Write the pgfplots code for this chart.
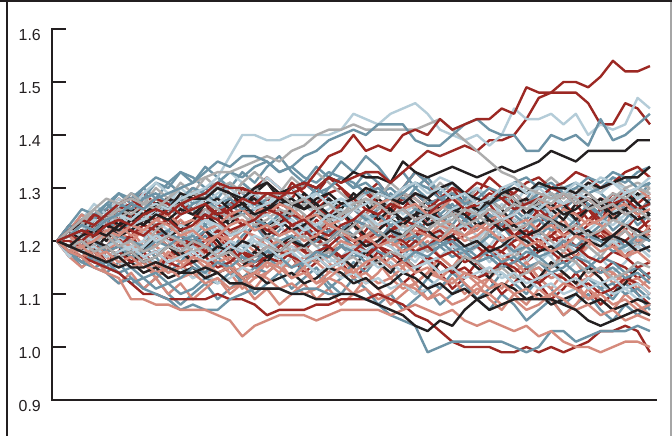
\documentclass[border=0pt]{standalone}
\usepackage{pgfplots}
\pgfplotsset{compat=1.18}
\usepackage{pgfplotstable}
\usepackage{fontspec}
\setmainfont{Liberation Sans}
\definecolor{cR}{RGB}{156,40,35}
\definecolor{cS}{RGB}{213,138,124}
\definecolor{cT}{RGB}{108,147,166}
\definecolor{cL}{RGB}{180,204,216}
\definecolor{cG}{RGB}{172,172,172}
\definecolor{cK}{RGB}{35,31,32}
\definecolor{axk}{RGB}{35,31,32}

% each row is one path, columns are steps 0..48
\pgfplotstableread[header=false]{
1.20 1.21 1.22 1.21 1.23 1.24 1.23 1.25 1.26 1.25 1.27 1.28 1.29 1.31 1.30 1.30 1.29 1.29 1.29 1.29 1.30 1.33 1.36 1.37 1.40 1.37 1.38 1.37 1.40 1.41 1.40 1.43 1.41 1.42 1.43 1.43 1.45 1.44 1.49 1.48 1.48 1.50 1.50 1.49 1.51 1.54 1.52 1.52 1.53
1.20 1.22 1.24 1.23 1.25 1.27 1.28 1.26 1.28 1.27 1.25 1.26 1.27 1.25 1.26 1.28 1.27 1.29 1.28 1.30 1.31 1.30 1.32 1.31 1.32 1.33 1.33 1.31 1.33 1.35 1.37 1.36 1.37 1.38 1.37 1.39 1.39 1.40 1.43 1.47 1.48 1.48 1.48 1.46 1.42 1.42 1.46 1.45 1.42
1.20 1.18 1.17 1.16 1.15 1.14 1.12 1.10 1.10 1.09 1.09 1.09 1.09 1.10 1.09 1.09 1.08 1.06 1.07 1.07 1.07 1.08 1.08 1.09 1.09 1.09 1.10 1.09 1.08 1.06 1.05 1.03 1.01 1.00 1.00 1.00 0.99 0.99 1.00 0.99 1.00 0.99 1.00 1.01 1.03 1.03 1.04 1.03 0.99
1.20 1.21 1.20 1.22 1.21 1.23 1.22 1.21 1.23 1.24 1.22 1.23 1.25 1.24 1.22 1.23 1.24 1.26 1.25 1.23 1.24 1.22 1.21 1.23 1.24 1.26 1.25 1.27 1.26 1.24 1.25 1.27 1.28 1.26 1.27 1.29 1.28 1.26 1.27 1.28 1.30 1.29 1.27 1.28 1.26 1.27 1.28 1.26 1.27
1.20 1.19 1.18 1.19 1.17 1.18 1.16 1.17 1.18 1.16 1.15 1.16 1.17 1.15 1.16 1.18 1.17 1.19 1.18 1.17 1.16 1.18 1.19 1.17 1.18 1.20 1.19 1.21 1.20 1.18 1.19 1.17 1.18 1.16 1.17 1.19 1.18 1.20 1.21 1.19 1.18 1.20 1.19 1.17 1.16 1.18 1.17 1.15 1.16
1.20 1.22 1.21 1.23 1.25 1.24 1.26 1.25 1.24 1.26 1.27 1.25 1.24 1.26 1.25 1.23 1.24 1.22 1.23 1.25 1.24 1.26 1.25 1.27 1.28 1.26 1.25 1.27 1.29 1.28 1.26 1.28 1.30 1.29 1.31 1.30 1.28 1.29 1.31 1.32 1.30 1.31 1.33 1.32 1.30 1.31 1.33 1.34 1.32
1.20 1.19 1.21 1.20 1.18 1.19 1.21 1.22 1.20 1.21 1.19 1.20 1.18 1.17 1.19 1.18 1.16 1.17 1.19 1.20 1.18 1.17 1.15 1.16 1.18 1.17 1.19 1.18 1.16 1.15 1.17 1.16 1.14 1.15 1.13 1.14 1.16 1.15 1.13 1.12 1.14 1.13 1.11 1.12 1.10 1.11 1.13 1.12 1.10
1.20 1.21 1.23 1.25 1.24 1.26 1.27 1.25 1.26 1.28 1.27 1.26 1.28 1.27 1.25 1.26 1.24 1.25 1.27 1.26 1.24 1.25 1.23 1.22 1.24 1.23 1.21 1.22 1.24 1.23 1.21 1.22 1.20 1.21 1.23 1.22 1.24 1.23 1.21 1.22 1.20 1.21 1.19 1.20 1.22 1.21 1.23 1.22 1.24
1.20 1.20 1.19 1.21 1.22 1.20 1.21 1.23 1.22 1.20 1.21 1.19 1.20 1.22 1.21 1.23 1.24 1.22 1.21 1.23 1.22 1.20 1.19 1.21 1.20 1.18 1.19 1.17 1.18 1.20 1.19 1.21 1.20 1.18 1.19 1.17 1.18 1.16 1.17 1.19 1.18 1.16 1.17 1.15 1.14 1.16 1.15 1.13 1.14
1.20 1.22 1.23 1.22 1.24 1.23 1.25 1.26 1.24 1.25 1.23 1.24 1.26 1.25 1.27 1.28 1.26 1.27 1.25 1.26 1.28 1.27 1.29 1.30 1.28 1.29 1.27 1.26 1.28 1.29 1.27 1.28 1.26 1.25 1.27 1.28 1.30 1.29 1.27 1.28 1.26 1.27 1.25 1.26 1.28 1.27 1.25 1.26 1.24
1.20 1.19 1.18 1.20 1.19 1.21 1.20 1.18 1.19 1.17 1.18 1.20 1.19 1.17 1.18 1.16 1.15 1.17 1.16 1.18 1.19 1.21 1.20 1.22 1.21 1.19 1.20 1.22 1.23 1.21 1.22 1.20 1.21 1.23 1.22 1.24 1.23 1.21 1.22 1.20 1.21 1.23 1.22 1.20 1.21 1.19 1.20 1.22 1.21
1.20 1.23 1.21 1.25 1.23 1.26 1.24 1.28 1.26 1.23 1.25 1.29 1.27 1.24 1.26 1.30 1.28 1.25 1.27 1.31 1.29 1.26 1.28 1.25 1.27 1.30 1.27 1.24 1.26 1.29 1.27 1.24 1.26 1.22 1.25 1.27 1.24 1.21 1.23 1.26 1.24 1.21 1.23 1.26 1.23 1.20 1.22 1.25 1.22
1.20 1.18 1.21 1.19 1.16 1.18 1.21 1.18 1.15 1.17 1.20 1.17 1.19 1.22 1.19 1.16 1.18 1.21 1.23 1.20 1.18 1.21 1.24 1.21 1.19 1.22 1.25 1.22 1.20 1.23 1.26 1.23 1.21 1.24 1.27 1.24 1.22 1.25 1.28 1.25 1.23 1.26 1.29 1.26 1.24 1.27 1.30 1.27 1.29
1.20 1.22 1.19 1.21 1.24 1.21 1.18 1.20 1.23 1.20 1.17 1.19 1.22 1.19 1.16 1.18 1.15 1.17 1.20 1.17 1.14 1.16 1.19 1.16 1.13 1.15 1.18 1.15 1.12 1.14 1.17 1.14 1.11 1.13 1.16 1.13 1.10 1.12 1.15 1.12 1.09 1.11 1.14 1.11 1.08 1.10 1.13 1.10 1.08
1.20 1.21 1.24 1.22 1.25 1.28 1.26 1.23 1.25 1.28 1.26 1.29 1.27 1.24 1.26 1.23 1.25 1.28 1.26 1.23 1.21 1.24 1.22 1.25 1.23 1.20 1.22 1.25 1.28 1.26 1.23 1.25 1.22 1.24 1.27 1.25 1.22 1.24 1.21 1.23 1.26 1.24 1.21 1.23 1.26 1.24 1.27 1.25 1.22
1.20 1.17 1.19 1.16 1.18 1.21 1.19 1.16 1.14 1.17 1.19 1.16 1.18 1.21 1.18 1.20 1.23 1.21 1.18 1.20 1.23 1.21 1.18 1.16 1.19 1.17 1.20 1.22 1.19 1.21 1.24 1.22 1.19 1.17 1.20 1.18 1.21 1.19 1.16 1.18 1.21 1.19 1.17 1.20 1.22 1.19 1.17 1.20 1.18
1.20 1.22 1.21 1.24 1.26 1.24 1.27 1.29 1.27 1.25 1.28 1.30 1.28 1.31 1.29 1.27 1.30 1.32 1.30 1.28 1.31 1.29 1.32 1.30 1.27 1.29 1.31 1.28 1.30 1.33 1.31 1.28 1.30 1.27 1.29 1.32 1.30 1.27 1.25 1.28 1.26 1.29 1.27 1.24 1.26 1.29 1.27 1.25 1.28
}\redraw
\pgfplotstableread[header=false]{
1.20 1.18 1.17 1.15 1.14 1.13 1.09 1.09 1.08 1.08 1.07 1.07 1.07 1.06 1.05 1.02 1.04 1.05 1.06 1.06 1.06 1.05 1.06 1.07 1.07 1.07 1.07 1.06 1.07 1.08 1.07 1.06 1.07 1.05 1.04 1.05 1.04 1.03 1.04 1.02 1.03 1.01 1.00 1.00 0.99 1.00 1.01 1.01 1.00
1.20 1.18 1.19 1.17 1.18 1.16 1.17 1.15 1.16 1.14 1.15 1.17 1.16 1.14 1.15 1.13 1.14 1.16 1.15 1.13 1.14 1.12 1.13 1.15 1.14 1.16 1.17 1.15 1.16 1.14 1.15 1.13 1.12 1.14 1.13 1.11 1.12 1.10 1.11 1.09 1.10 1.12 1.11 1.09 1.10 1.08 1.09 1.07 1.08
1.20 1.21 1.19 1.20 1.22 1.21 1.23 1.22 1.24 1.23 1.21 1.22 1.20 1.21 1.23 1.24 1.22 1.23 1.21 1.22 1.20 1.21 1.23 1.22 1.20 1.21 1.19 1.20 1.18 1.19 1.21 1.20 1.22 1.21 1.23 1.22 1.20 1.21 1.19 1.20 1.18 1.19 1.21 1.20 1.18 1.19 1.17 1.18 1.16
1.20 1.22 1.21 1.20 1.22 1.23 1.21 1.22 1.24 1.25 1.23 1.24 1.22 1.23 1.25 1.26 1.24 1.25 1.27 1.26 1.24 1.25 1.23 1.24 1.26 1.25 1.27 1.28 1.26 1.27 1.25 1.26 1.28 1.27 1.25 1.26 1.24 1.25 1.27 1.28 1.26 1.27 1.29 1.28 1.26 1.27 1.29 1.30 1.28
1.20 1.19 1.17 1.18 1.16 1.17 1.15 1.16 1.14 1.15 1.13 1.14 1.12 1.13 1.11 1.12 1.14 1.13 1.11 1.12 1.10 1.11 1.13 1.12 1.10 1.11 1.09 1.10 1.12 1.11 1.09 1.10 1.08 1.09 1.11 1.10 1.08 1.09 1.07 1.08 1.10 1.09 1.07 1.08 1.06 1.07 1.05 1.06 1.05
1.20 1.21 1.22 1.20 1.21 1.19 1.20 1.22 1.21 1.19 1.20 1.18 1.19 1.21 1.20 1.22 1.21 1.19 1.20 1.18 1.19 1.17 1.18 1.20 1.19 1.21 1.22 1.20 1.21 1.23 1.22 1.24 1.23 1.21 1.22 1.24 1.25 1.23 1.24 1.22 1.23 1.21 1.22 1.24 1.23 1.21 1.22 1.20 1.21
1.20 1.18 1.17 1.19 1.18 1.20 1.19 1.17 1.18 1.16 1.17 1.19 1.18 1.16 1.17 1.15 1.16 1.18 1.17 1.19 1.18 1.16 1.17 1.19 1.18 1.20 1.21 1.19 1.20 1.22 1.21 1.23 1.22 1.20 1.21 1.23 1.24 1.22 1.23 1.25 1.24 1.26 1.25 1.23 1.24 1.26 1.27 1.25 1.26
1.20 1.21 1.20 1.18 1.19 1.17 1.18 1.20 1.19 1.17 1.16 1.17 1.15 1.16 1.14 1.15 1.13 1.14 1.16 1.15 1.17 1.16 1.14 1.15 1.13 1.14 1.12 1.13 1.11 1.12 1.14 1.13 1.15 1.14 1.12 1.13 1.15 1.16 1.14 1.15 1.13 1.14 1.12 1.13 1.15 1.14 1.12 1.13 1.11
1.20 1.22 1.20 1.17 1.19 1.22 1.20 1.17 1.15 1.18 1.16 1.13 1.15 1.18 1.16 1.13 1.11 1.14 1.16 1.13 1.15 1.18 1.16 1.13 1.15 1.12 1.14 1.17 1.15 1.12 1.14 1.17 1.15 1.12 1.10 1.13 1.11 1.14 1.16 1.13 1.11 1.14 1.12 1.09 1.11 1.14 1.12 1.15 1.13
1.20 1.21 1.18 1.20 1.23 1.21 1.24 1.22 1.19 1.21 1.24 1.22 1.25 1.23 1.20 1.22 1.25 1.27 1.24 1.22 1.25 1.23 1.20 1.22 1.24 1.21 1.23 1.26 1.24 1.21 1.19 1.22 1.20 1.17 1.19 1.22 1.20 1.18 1.21 1.19 1.22 1.24 1.21 1.19 1.22 1.20 1.17 1.19 1.22
1.20 1.18 1.16 1.19 1.17 1.15 1.18 1.16 1.13 1.15 1.18 1.15 1.13 1.16 1.14 1.11 1.13 1.16 1.14 1.17 1.15 1.12 1.14 1.17 1.15 1.18 1.16 1.13 1.15 1.18 1.20 1.17 1.15 1.18 1.21 1.19 1.16 1.18 1.21 1.19 1.22 1.20 1.17 1.19 1.22 1.25 1.22 1.20 1.23
1.20 1.22 1.25 1.23 1.21 1.24 1.22 1.19 1.21 1.24 1.22 1.20 1.17 1.19 1.22 1.20 1.18 1.15 1.17 1.20 1.18 1.16 1.19 1.17 1.14 1.16 1.19 1.17 1.15 1.18 1.16 1.13 1.15 1.18 1.16 1.19 1.17 1.14 1.16 1.13 1.15 1.18 1.16 1.13 1.15 1.12 1.14 1.11 1.13
1.20 1.17 1.15 1.17 1.14 1.12 1.14 1.11 1.13 1.10 1.12 1.09 1.11 1.13 1.10 1.12 1.09 1.11 1.08 1.10 1.12 1.09 1.11 1.08 1.10 1.13 1.11 1.08 1.10 1.12 1.09 1.11 1.13 1.10 1.12 1.09 1.07 1.10 1.08 1.11 1.09 1.06 1.08 1.11 1.09 1.07 1.10 1.08 1.06
}\salraw
\pgfplotstableread[header=false]{
1.20 1.21 1.23 1.22 1.24 1.25 1.27 1.26 1.28 1.29 1.30 1.31 1.33 1.35 1.34 1.36 1.36 1.35 1.33 1.34 1.36 1.37 1.39 1.40 1.41 1.40 1.42 1.42 1.42 1.39 1.38 1.38 1.40 1.42 1.43 1.41 1.40 1.40 1.37 1.37 1.40 1.39 1.40 1.38 1.43 1.39 1.40 1.42 1.44
1.20 1.18 1.16 1.15 1.14 1.12 1.13 1.11 1.10 1.09 1.07 1.08 1.07 1.07 1.09 1.10 1.11 1.11 1.11 1.10 1.11 1.11 1.10 1.10 1.10 1.09 1.08 1.06 1.05 1.04 0.99 1.00 1.01 1.01 1.01 1.01 1.01 1.00 0.99 1.00 1.03 1.03 1.01 1.02 1.03 1.03 1.03 1.04 1.03
1.20 1.22 1.24 1.23 1.25 1.27 1.26 1.28 1.29 1.27 1.28 1.30 1.29 1.27 1.28 1.26 1.27 1.29 1.28 1.30 1.31 1.29 1.30 1.32 1.31 1.29 1.30 1.28 1.29 1.31 1.30 1.28 1.29 1.27 1.28 1.30 1.29 1.31 1.32 1.30 1.31 1.29 1.30 1.32 1.31 1.33 1.32 1.30 1.31
1.20 1.18 1.17 1.15 1.16 1.14 1.15 1.13 1.14 1.12 1.13 1.15 1.14 1.16 1.15 1.17 1.16 1.18 1.17 1.15 1.16 1.18 1.17 1.19 1.18 1.16 1.17 1.15 1.16 1.18 1.17 1.19 1.20 1.18 1.19 1.21 1.20 1.18 1.19 1.17 1.18 1.20 1.19 1.21 1.20 1.18 1.19 1.21 1.20
1.20 1.21 1.19 1.20 1.18 1.19 1.17 1.18 1.20 1.19 1.21 1.20 1.22 1.23 1.21 1.22 1.24 1.23 1.25 1.24 1.22 1.23 1.21 1.22 1.24 1.23 1.21 1.22 1.20 1.21 1.19 1.20 1.18 1.19 1.17 1.18 1.16 1.17 1.15 1.16 1.14 1.15 1.17 1.16 1.14 1.15 1.13 1.14 1.12
1.20 1.22 1.21 1.23 1.24 1.22 1.23 1.25 1.24 1.26 1.25 1.27 1.28 1.26 1.27 1.25 1.26 1.28 1.29 1.27 1.28 1.26 1.25 1.27 1.26 1.24 1.25 1.23 1.24 1.26 1.25 1.27 1.26 1.24 1.25 1.27 1.28 1.26 1.27 1.29 1.28 1.30 1.31 1.29 1.30 1.32 1.31 1.33 1.34
1.20 1.19 1.20 1.18 1.19 1.21 1.20 1.19 1.21 1.22 1.20 1.21 1.19 1.18 1.20 1.19 1.17 1.18 1.20 1.21 1.19 1.20 1.22 1.21 1.19 1.20 1.18 1.17 1.19 1.18 1.16 1.17 1.19 1.18 1.16 1.17 1.15 1.16 1.18 1.17 1.15 1.16 1.14 1.15 1.17 1.16 1.14 1.15 1.13
1.20 1.23 1.26 1.25 1.27 1.29 1.28 1.30 1.32 1.31 1.33 1.32 1.30 1.31 1.33 1.32 1.34 1.35 1.33 1.34 1.32 1.31 1.33 1.32 1.30 1.31 1.29 1.30 1.28 1.29 1.27 1.28 1.26 1.27 1.25 1.26 1.24 1.25 1.23 1.24 1.22 1.23 1.21 1.22 1.20 1.21 1.19 1.20 1.18
1.20 1.18 1.16 1.17 1.15 1.14 1.12 1.13 1.11 1.12 1.10 1.11 1.13 1.12 1.14 1.13 1.15 1.14 1.16 1.15 1.17 1.16 1.18 1.19 1.17 1.18 1.20 1.19 1.21 1.20 1.18 1.19 1.17 1.18 1.16 1.17 1.15 1.16 1.14 1.15 1.13 1.14 1.12 1.13 1.11 1.12 1.10 1.11 1.09
1.20 1.23 1.21 1.24 1.27 1.25 1.22 1.24 1.27 1.25 1.28 1.26 1.23 1.25 1.28 1.31 1.29 1.26 1.28 1.25 1.27 1.30 1.28 1.25 1.27 1.24 1.26 1.29 1.27 1.30 1.28 1.25 1.27 1.24 1.22 1.25 1.23 1.26 1.24 1.21 1.23 1.26 1.24 1.27 1.25 1.22 1.24 1.27 1.25
1.20 1.18 1.20 1.17 1.15 1.18 1.16 1.19 1.17 1.14 1.16 1.19 1.21 1.18 1.20 1.17 1.15 1.17 1.20 1.18 1.15 1.17 1.20 1.23 1.21 1.18 1.20 1.23 1.21 1.24 1.22 1.19 1.21 1.24 1.22 1.25 1.23 1.20 1.22 1.25 1.23 1.26 1.24 1.21 1.23 1.26 1.28 1.25 1.27
1.20 1.21 1.18 1.16 1.19 1.21 1.18 1.16 1.13 1.15 1.18 1.16 1.14 1.17 1.15 1.12 1.14 1.17 1.15 1.13 1.16 1.14 1.11 1.13 1.16 1.14 1.17 1.15 1.12 1.10 1.13 1.11 1.14 1.12 1.09 1.11 1.14 1.12 1.10 1.13 1.11 1.08 1.10 1.13 1.11 1.09 1.12 1.10 1.07
1.20 1.22 1.24 1.21 1.23 1.26 1.24 1.21 1.19 1.22 1.24 1.21 1.23 1.20 1.18 1.21 1.23 1.20 1.22 1.25 1.23 1.20 1.22 1.19 1.21 1.24 1.22 1.19 1.17 1.20 1.22 1.25 1.23 1.26 1.24 1.21 1.23 1.26 1.24 1.27 1.25 1.22 1.24 1.27 1.25 1.28 1.26 1.23 1.25
1.20 1.22 1.25 1.24 1.27 1.26 1.29 1.28 1.31 1.30 1.33 1.31 1.34 1.32 1.30 1.33 1.31 1.34 1.36 1.33 1.31 1.34 1.32 1.35 1.33 1.36 1.34 1.31 1.33 1.30 1.32 1.29 1.31 1.28 1.30 1.27 1.29 1.26 1.28 1.31 1.29 1.26 1.28 1.31 1.29 1.27 1.30 1.28 1.31
1.20 1.23 1.21 1.24 1.26 1.29 1.27 1.30 1.28 1.31 1.29 1.27 1.30 1.28 1.31 1.29 1.27 1.25 1.28 1.26 1.29 1.27 1.30 1.32 1.30 1.33 1.31 1.28 1.30 1.33 1.31 1.29 1.26 1.28 1.25 1.27 1.30 1.28 1.25 1.27 1.24 1.26 1.29 1.27 1.24 1.26 1.23 1.25 1.28
1.20 1.18 1.15 1.17 1.14 1.16 1.13 1.11 1.13 1.10 1.08 1.10 1.12 1.09 1.11 1.13 1.10 1.12 1.14 1.11 1.13 1.15 1.12 1.10 1.13 1.11 1.08 1.10 1.07 1.09 1.11 1.08 1.10 1.12 1.09 1.07 1.10 1.08 1.05 1.07 1.09 1.06 1.08 1.10 1.07 1.05 1.08 1.06 1.08
}\tealraw
\pgfplotstableread[header=false]{
1.20 1.21 1.23 1.22 1.24 1.25 1.24 1.26 1.27 1.26 1.28 1.29 1.30 1.32 1.36 1.40 1.40 1.39 1.39 1.40 1.40 1.40 1.40 1.41 1.44 1.43 1.42 1.44 1.45 1.46 1.44 1.41 1.40 1.39 1.40 1.38 1.40 1.45 1.43 1.43 1.44 1.42 1.44 1.40 1.42 1.41 1.42 1.47 1.45
1.20 1.21 1.23 1.22 1.24 1.25 1.23 1.24 1.26 1.27 1.25 1.26 1.28 1.27 1.29 1.28 1.26 1.27 1.29 1.30 1.28 1.29 1.27 1.28 1.26 1.27 1.29 1.28 1.30 1.31 1.29 1.30 1.28 1.29 1.27 1.28 1.30 1.31 1.29 1.30 1.28 1.29 1.31 1.30 1.32 1.31 1.29 1.30 1.32
1.20 1.19 1.18 1.19 1.17 1.18 1.19 1.17 1.18 1.16 1.17 1.18 1.16 1.17 1.19 1.18 1.20 1.19 1.17 1.18 1.16 1.17 1.15 1.16 1.18 1.17 1.15 1.16 1.14 1.15 1.16 1.14 1.15 1.13 1.14 1.15 1.13 1.14 1.12 1.13 1.14 1.12 1.13 1.11 1.12 1.13 1.11 1.12 1.10
1.20 1.22 1.21 1.20 1.22 1.21 1.23 1.22 1.20 1.21 1.23 1.22 1.24 1.23 1.21 1.22 1.24 1.25 1.23 1.24 1.22 1.23 1.25 1.24 1.26 1.25 1.23 1.24 1.22 1.23 1.25 1.24 1.26 1.27 1.25 1.26 1.24 1.25 1.27 1.26 1.28 1.27 1.29 1.28 1.26 1.27 1.29 1.30 1.29
1.20 1.19 1.21 1.20 1.19 1.20 1.18 1.19 1.21 1.20 1.18 1.19 1.17 1.18 1.20 1.19 1.21 1.20 1.18 1.19 1.17 1.18 1.16 1.17 1.19 1.18 1.20 1.19 1.17 1.18 1.16 1.17 1.19 1.18 1.20 1.19 1.17 1.18 1.20 1.21 1.19 1.20 1.22 1.21 1.19 1.20 1.18 1.19 1.17
1.20 1.21 1.22 1.24 1.23 1.25 1.26 1.24 1.25 1.27 1.26 1.28 1.27 1.29 1.30 1.28 1.29 1.27 1.28 1.26 1.27 1.25 1.26 1.28 1.27 1.29 1.30 1.28 1.29 1.31 1.30 1.32 1.31 1.29 1.30 1.28 1.29 1.31 1.30 1.28 1.29 1.27 1.28 1.30 1.29 1.31 1.30 1.28 1.29
1.20 1.18 1.19 1.17 1.18 1.16 1.15 1.17 1.16 1.14 1.15 1.13 1.14 1.12 1.13 1.15 1.14 1.16 1.15 1.17 1.16 1.14 1.15 1.13 1.14 1.12 1.13 1.11 1.12 1.10 1.11 1.13 1.12 1.14 1.13 1.15 1.14 1.12 1.13 1.11 1.12 1.10 1.11 1.13 1.12 1.10 1.11 1.09 1.10
1.20 1.21 1.19 1.20 1.22 1.21 1.19 1.20 1.18 1.19 1.21 1.20 1.22 1.21 1.23 1.24 1.22 1.23 1.21 1.22 1.24 1.23 1.25 1.26 1.24 1.25 1.23 1.24 1.26 1.25 1.23 1.24 1.22 1.23 1.21 1.22 1.24 1.23 1.25 1.24 1.22 1.23 1.21 1.22 1.24 1.23 1.25 1.26 1.24
1.20 1.19 1.22 1.20 1.23 1.21 1.18 1.20 1.23 1.21 1.19 1.22 1.24 1.21 1.23 1.26 1.24 1.21 1.23 1.20 1.22 1.25 1.23 1.20 1.18 1.21 1.19 1.22 1.20 1.17 1.19 1.22 1.20 1.17 1.19 1.16 1.18 1.21 1.19 1.16 1.18 1.21 1.19 1.16 1.18 1.21 1.19 1.22 1.20
1.20 1.22 1.20 1.23 1.25 1.23 1.26 1.28 1.25 1.27 1.30 1.28 1.25 1.27 1.24 1.26 1.29 1.27 1.24 1.26 1.28 1.26 1.23 1.25 1.27 1.24 1.26 1.28 1.25 1.27 1.24 1.22 1.25 1.23 1.26 1.28 1.25 1.27 1.30 1.28 1.25 1.27 1.24 1.26 1.28 1.26 1.23 1.25 1.27
1.20 1.17 1.19 1.21 1.18 1.16 1.19 1.17 1.14 1.16 1.19 1.17 1.15 1.18 1.20 1.18 1.21 1.19 1.16 1.18 1.21 1.19 1.17 1.15 1.18 1.16 1.19 1.21 1.18 1.16 1.19 1.22 1.20 1.18 1.21 1.19 1.22 1.24 1.21 1.19 1.17 1.20 1.18 1.21 1.23 1.21 1.18 1.20 1.22
1.20 1.21 1.23 1.20 1.18 1.21 1.23 1.21 1.24 1.22 1.19 1.21 1.24 1.22 1.25 1.23 1.20 1.18 1.21 1.23 1.20 1.22 1.25 1.23 1.21 1.24 1.22 1.19 1.21 1.24 1.26 1.23 1.21 1.18 1.20 1.23 1.21 1.18 1.16 1.19 1.17 1.14 1.16 1.19 1.17 1.14 1.16 1.19 1.17
1.20 1.22 1.24 1.27 1.25 1.28 1.26 1.29 1.31 1.29 1.27 1.30 1.28 1.31 1.33 1.31 1.29 1.32 1.30 1.28 1.26 1.29 1.27 1.24 1.26 1.28 1.25 1.27 1.29 1.26 1.24 1.27 1.25 1.23 1.26 1.24 1.27 1.25 1.22 1.24 1.27 1.25 1.23 1.26 1.28 1.25 1.27 1.30 1.28
}\lbraw
\pgfplotstableread[header=false]{
1.20 1.22 1.24 1.26 1.28 1.27 1.28 1.27 1.26 1.28 1.30 1.31 1.32 1.33 1.33 1.34 1.35 1.36 1.35 1.37 1.38 1.40 1.41 1.41 1.42 1.41 1.41 1.41 1.41 1.41 1.42 1.43 1.41 1.39 1.37 1.35 1.33 1.32 1.30 1.29 1.28 1.29 1.27 1.28 1.26 1.27 1.25 1.26 1.24
1.20 1.21 1.23 1.22 1.24 1.26 1.25 1.27 1.28 1.26 1.27 1.29 1.28 1.30 1.31 1.29 1.30 1.28 1.29 1.27 1.28 1.26 1.27 1.25 1.26 1.28 1.27 1.25 1.26 1.24 1.25 1.23 1.24 1.26 1.25 1.23 1.24 1.22 1.23 1.25 1.24 1.22 1.23 1.21 1.22 1.24 1.23 1.21 1.22
1.20 1.19 1.20 1.18 1.19 1.17 1.18 1.16 1.17 1.19 1.18 1.20 1.19 1.17 1.18 1.16 1.17 1.19 1.18 1.20 1.21 1.19 1.20 1.22 1.21 1.23 1.22 1.20 1.21 1.23 1.22 1.24 1.25 1.23 1.24 1.26 1.25 1.27 1.26 1.28 1.27 1.29 1.28 1.26 1.27 1.29 1.28 1.30 1.29
1.20 1.21 1.20 1.22 1.21 1.19 1.20 1.18 1.19 1.21 1.20 1.18 1.19 1.17 1.18 1.20 1.19 1.21 1.20 1.18 1.19 1.17 1.18 1.16 1.17 1.15 1.16 1.18 1.17 1.15 1.16 1.14 1.15 1.17 1.16 1.14 1.15 1.13 1.14 1.16 1.15 1.17 1.16 1.14 1.15 1.13 1.14 1.16 1.15
1.20 1.22 1.24 1.23 1.25 1.24 1.26 1.25 1.23 1.24 1.26 1.25 1.27 1.26 1.24 1.25 1.23 1.24 1.26 1.25 1.27 1.26 1.24 1.25 1.27 1.28 1.26 1.27 1.29 1.28 1.26 1.27 1.25 1.26 1.28 1.27 1.29 1.28 1.26 1.27 1.29 1.28 1.30 1.29 1.27 1.28 1.30 1.31 1.30
1.20 1.18 1.21 1.19 1.22 1.20 1.17 1.19 1.22 1.24 1.21 1.23 1.26 1.24 1.21 1.23 1.25 1.22 1.24 1.27 1.25 1.22 1.24 1.21 1.23 1.25 1.22 1.20 1.23 1.21 1.18 1.20 1.23 1.21 1.19 1.22 1.20 1.17 1.19 1.22 1.20 1.18 1.21 1.19 1.17 1.20 1.22 1.19 1.21
1.20 1.21 1.23 1.26 1.24 1.27 1.29 1.27 1.30 1.28 1.31 1.29 1.32 1.30 1.28 1.31 1.33 1.31 1.29 1.32 1.30 1.33 1.31 1.29 1.27 1.30 1.28 1.31 1.29 1.26 1.28 1.31 1.29 1.27 1.30 1.28 1.26 1.29 1.27 1.30 1.32 1.30 1.28 1.31 1.29 1.32 1.30 1.28 1.30
}\grayraw
\pgfplotstableread[header=false]{
1.20 1.19 1.18 1.17 1.16 1.17 1.15 1.15 1.16 1.15 1.14 1.14 1.15 1.14 1.12 1.12 1.11 1.11 1.11 1.10 1.10 1.09 1.09 1.10 1.10 1.09 1.08 1.07 1.06 1.04 1.03 1.05 1.04 1.07 1.09 1.07 1.08 1.09 1.09 1.09 1.09 1.08 1.07 1.05 1.04 1.05 1.06 1.07 1.06
1.20 1.21 1.22 1.21 1.23 1.22 1.24 1.25 1.27 1.26 1.29 1.28 1.28 1.30 1.29 1.28 1.30 1.31 1.29 1.30 1.31 1.30 1.32 1.31 1.33 1.32 1.32 1.31 1.35 1.33 1.32 1.33 1.34 1.33 1.32 1.33 1.34 1.33 1.34 1.35 1.37 1.36 1.35 1.37 1.37 1.37 1.37 1.39 1.39
1.20 1.19 1.21 1.22 1.21 1.23 1.24 1.23 1.25 1.24 1.26 1.25 1.27 1.28 1.26 1.27 1.25 1.26 1.28 1.27 1.26 1.28 1.29 1.27 1.28 1.30 1.29 1.28 1.27 1.29 1.28 1.30 1.31 1.29 1.28 1.27 1.29 1.30 1.29 1.31 1.30 1.30 1.29 1.31 1.30 1.31 1.32 1.32 1.34
1.20 1.19 1.18 1.20 1.19 1.17 1.18 1.16 1.17 1.19 1.18 1.16 1.17 1.19 1.18 1.20 1.19 1.17 1.18 1.20 1.19 1.21 1.20 1.22 1.21 1.19 1.20 1.22 1.21 1.23 1.22 1.20 1.21 1.19 1.20 1.18 1.19 1.21 1.20 1.18 1.19 1.17 1.18 1.20 1.19 1.21 1.20 1.18 1.19
1.20 1.21 1.23 1.22 1.24 1.25 1.26 1.25 1.27 1.28 1.27 1.29 1.28 1.30 1.29 1.27 1.28 1.26 1.27 1.28 1.26 1.27 1.25 1.24 1.26 1.25 1.27 1.26 1.24 1.25 1.23 1.24 1.26 1.25 1.23 1.24 1.22 1.23 1.21 1.22 1.24 1.23 1.21 1.22 1.20 1.21 1.23 1.22 1.20
1.20 1.18 1.17 1.18 1.16 1.15 1.16 1.14 1.15 1.13 1.14 1.15 1.13 1.14 1.15 1.13 1.14 1.12 1.13 1.14 1.12 1.13 1.15 1.14 1.12 1.13 1.11 1.12 1.14 1.13 1.11 1.12 1.10 1.11 1.09 1.10 1.12 1.11 1.09 1.10 1.08 1.09 1.10 1.08 1.09 1.07 1.08 1.09 1.08
1.20 1.21 1.20 1.22 1.23 1.21 1.22 1.24 1.23 1.21 1.22 1.24 1.25 1.23 1.24 1.26 1.25 1.23 1.24 1.22 1.23 1.25 1.24 1.22 1.23 1.21 1.22 1.24 1.23 1.25 1.26 1.24 1.25 1.27 1.26 1.24 1.25 1.27 1.28 1.26 1.27 1.25 1.26 1.28 1.27 1.25 1.26 1.24 1.25
1.20 1.22 1.20 1.18 1.21 1.19 1.16 1.18 1.21 1.19 1.17 1.20 1.22 1.20 1.17 1.15 1.18 1.16 1.19 1.21 1.18 1.16 1.19 1.17 1.15 1.18 1.16 1.14 1.17 1.15 1.13 1.16 1.14 1.17 1.15 1.13 1.16 1.14 1.11 1.13 1.16 1.14 1.12 1.15 1.13 1.10 1.12 1.15 1.13
1.20 1.21 1.24 1.22 1.25 1.23 1.26 1.24 1.27 1.25 1.22 1.24 1.27 1.25 1.23 1.26 1.24 1.21 1.23 1.26 1.29 1.27 1.24 1.26 1.29 1.27 1.24 1.26 1.23 1.25 1.28 1.26 1.29 1.27 1.25 1.27 1.30 1.28 1.25 1.27 1.29 1.27 1.24 1.26 1.28 1.26 1.29 1.27 1.25
1.20 1.21 1.24 1.22 1.20 1.23 1.25 1.23 1.26 1.28 1.26 1.29 1.27 1.25 1.28 1.26 1.29 1.31 1.28 1.30 1.27 1.25 1.28 1.26 1.23 1.25 1.28 1.26 1.29 1.27 1.24 1.26 1.29 1.27 1.25 1.28 1.26 1.23 1.25 1.28 1.26 1.24 1.27 1.29 1.27 1.24 1.26 1.29 1.27
}\blackraw

\pgfplotstabletranspose{\redT}{\redraw}
\pgfplotstabletranspose{\salT}{\salraw}
\pgfplotstabletranspose{\tealT}{\tealraw}
\pgfplotstabletranspose{\lbT}{\lbraw}
\pgfplotstabletranspose{\grayT}{\grayraw}
\pgfplotstabletranspose{\blackT}{\blackraw}

\begin{document}
\begin{tikzpicture}[x=1bp,y=1bp]
\path[use as bounding box] (0,0) rectangle (672,436);
\begin{axis}[
  at={(52bp,36bp)}, anchor=south west,
  scale only axis, width=604bp, height=371bp,
  xmin=-0.405, xmax=48.49, ymin=0.9, ymax=1.6,
  axis x line=bottom, axis y line=left,
  axis line style={line width=2.4bp, color=axk, -, line cap=rect},
  xtick=\empty,
  ytick={0.9,1.0,1.1,1.2,1.3,1.4,1.5,1.6},
  tick align=inside, major tick length=14bp,
  every tick/.style={line width=2.2bp, color=axk},
  /pgf/number format/fixed, /pgf/number format/fixed zerofill,
  /pgf/number format/precision=1, /pgf/number format/assume math mode=true,
  yticklabel style={anchor=north east, inner sep=0pt, xshift=-11bp,
    font=\fontsize{16}{19}\selectfont, text=axk},
  clip=false,
  every axis plot/.append style={line width=2.4bp, line join=round, mark=none},
]
\pgfplotsinvokeforeach{17,16,...,1}{
  \ifnum#1<14 \addplot[cS] table[x expr=\coordindex, y index=#1]{\salT};\fi
  \ifnum#1<14 \addplot[cL] table[x expr=\coordindex, y index=#1]{\lbT};\fi
  \ifnum#1<8 \addplot[cG] table[x expr=\coordindex, y index=#1]{\grayT};\fi
  \ifnum#1<17 \addplot[cT] table[x expr=\coordindex, y index=#1]{\tealT};\fi
  \ifnum#1<11 \addplot[cK] table[x expr=\coordindex, y index=#1]{\blackT};\fi
  \addplot[cR] table[x expr=\coordindex, y index=#1]{\redT};
}
\end{axis}
\draw[line width=2bp, color=axk] (7,0) -- (7,436);
\draw[line width=2bp, color=axk] (0,435) -- (672,435);
\draw[line width=1.2bp, color=black!35] (671,0) -- (671,434);
\end{tikzpicture}
\end{document}
